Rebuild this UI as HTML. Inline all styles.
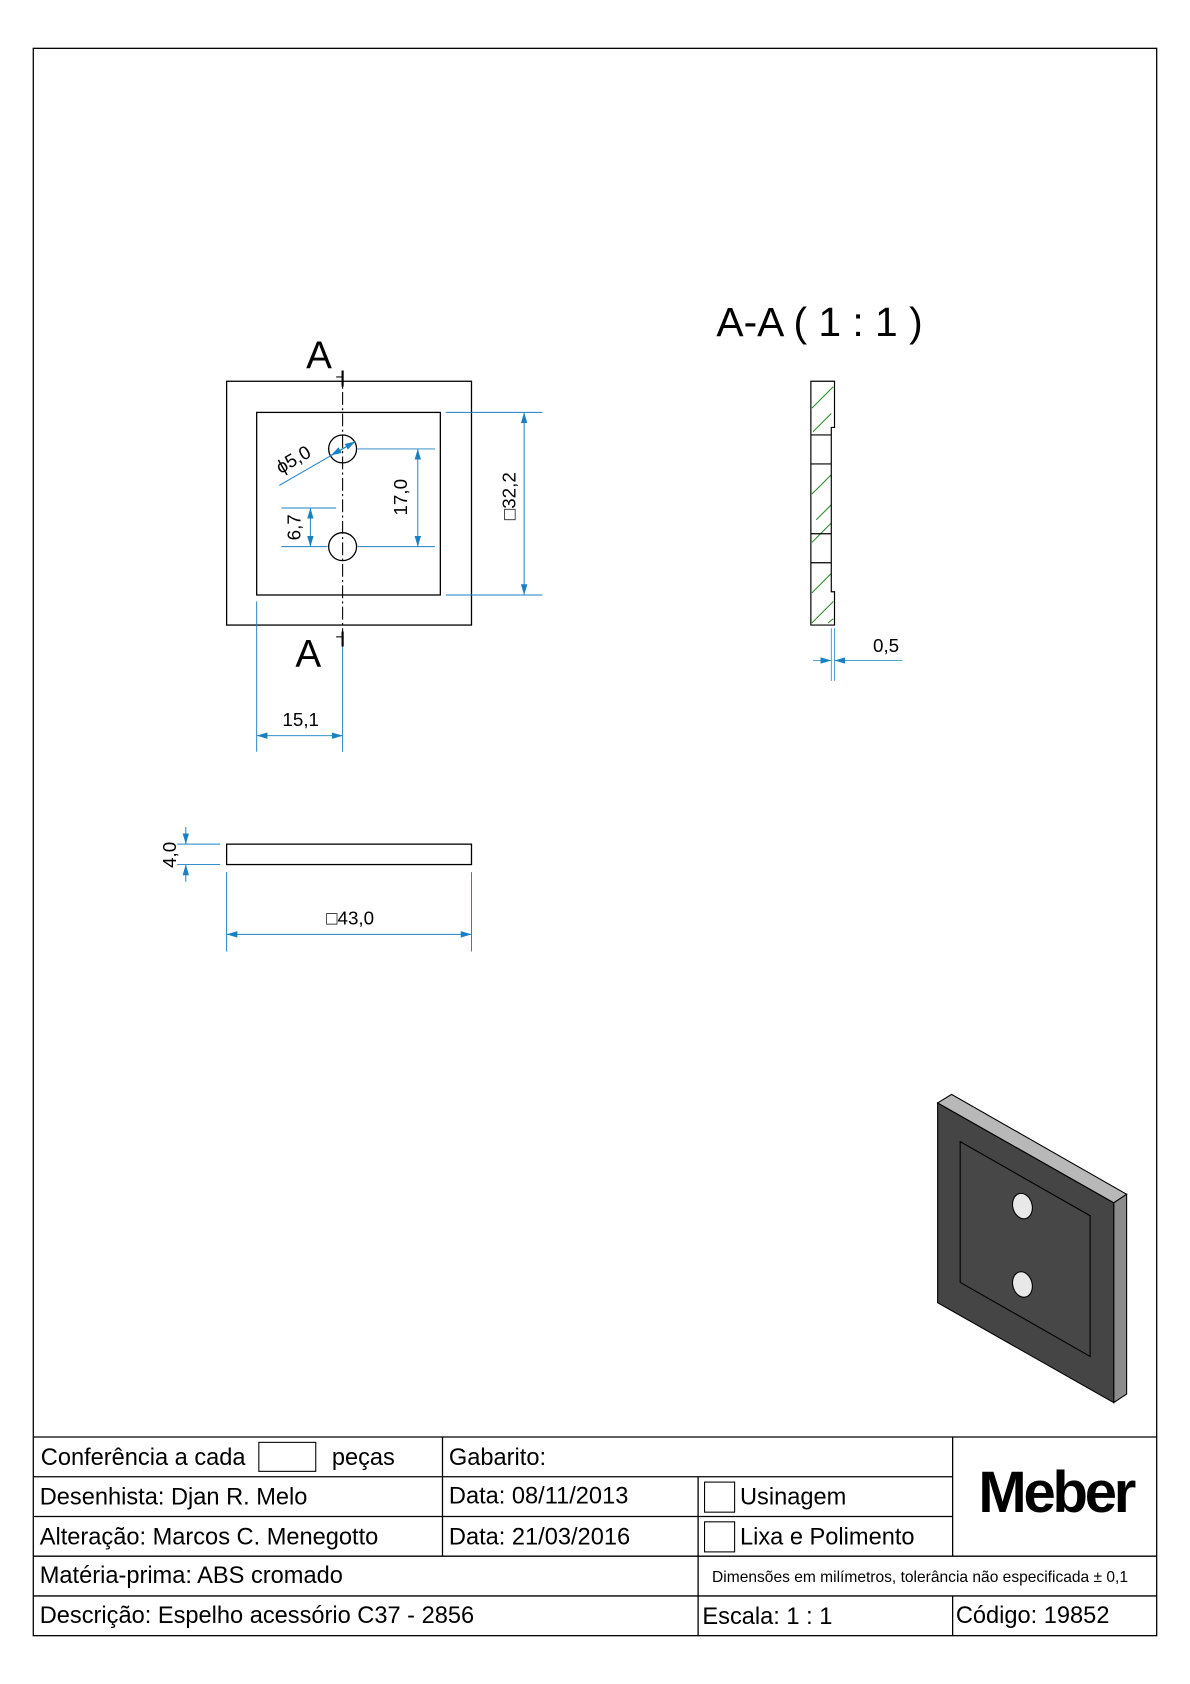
<!DOCTYPE html>
<html><head><meta charset="utf-8"><style>html,body{margin:0;padding:0;background:#fff}svg{display:block}</style></head>
<body>
<svg width="1190" height="1684" viewBox="0 0 1108 1568" preserveAspectRatio="none" xmlns="http://www.w3.org/2000/svg" font-family="Liberation Sans, Arial, sans-serif">
<defs>
<marker id="ar" viewBox="0 0 10 6" refX="10" refY="3" markerWidth="10" markerHeight="6" markerUnits="userSpaceOnUse" orient="auto-start-reverse"><path d="M0,0 L10,3 L0,6 Z" fill="#1a80c4"/></marker>
</defs>
<rect x="31" y="45" width="1046" height="1478" fill="none" stroke="#000" stroke-width="1.2"/>

<!-- front view -->
<g fill="none" stroke="#000" stroke-width="1.2">
<rect x="211" y="355" width="228" height="227"/>
<rect x="239" y="384" width="171" height="170"/>
<circle cx="319" cy="418" r="13"/>
<circle cx="319" cy="509" r="13"/>
</g>
<line x1="319" y1="345" x2="319" y2="602" stroke="#000" stroke-width="1" stroke-dasharray="12,3,2,3"/>
<g stroke="#000" stroke-width="2"><line x1="319" y1="345" x2="319" y2="360"/><line x1="319" y1="588" x2="319" y2="602"/></g>
<g stroke="#000" stroke-width="1"><line x1="313" y1="351" x2="319" y2="351"/><line x1="313" y1="593" x2="319" y2="593"/></g>
<text x="285" y="343" font-size="36">A</text>
<text x="275" y="621" font-size="36">A</text>

<g stroke="#1a80c4" stroke-width="0.9" fill="none">
<line x1="415" y1="384" x2="505" y2="384"/><line x1="415" y1="554" x2="505" y2="554"/>
<line x1="488" y1="384" x2="488" y2="554" marker-start="url(#ar)" marker-end="url(#ar)"/>
<line x1="333" y1="418" x2="405" y2="418"/><line x1="333" y1="509" x2="405" y2="509"/>
<line x1="389" y1="418" x2="389" y2="509" marker-start="url(#ar)" marker-end="url(#ar)"/>
<line x1="262" y1="473" x2="313" y2="473"/><line x1="262" y1="509" x2="305" y2="509"/>
<line x1="289" y1="473" x2="289" y2="509" marker-start="url(#ar)" marker-end="url(#ar)"/>
<line x1="260" y1="452" x2="331" y2="411" marker-end="url(#ar)"/>
<line x1="331" y1="411" x2="308" y2="424" marker-end="url(#ar)"/>
<line x1="239" y1="560" x2="239" y2="700"/><line x1="319" y1="602" x2="319" y2="700"/>
<line x1="239" y1="685" x2="319" y2="685" marker-start="url(#ar)" marker-end="url(#ar)"/>
</g>
<text transform="translate(480,462) rotate(-90)" font-size="17.5" text-anchor="middle">□32,2</text>
<text transform="translate(379,463) rotate(-90)" font-size="17.5" text-anchor="middle">17,0</text>
<text transform="translate(280,491) rotate(-90)" font-size="17.5" text-anchor="middle">6,7</text>
<text transform="translate(276,433) rotate(-30)" font-size="17.5" text-anchor="middle">ϕ5,0</text>
<text x="280" y="676" font-size="17.5" text-anchor="middle">15,1</text>

<!-- side view -->
<rect x="211" y="786" width="228" height="19" fill="none" stroke="#000" stroke-width="1.2"/>
<g stroke="#1a80c4" stroke-width="0.9" fill="none">
<line x1="165" y1="786" x2="205" y2="786"/><line x1="165" y1="805" x2="205" y2="805"/>
<line x1="173" y1="770" x2="173" y2="786" marker-end="url(#ar)"/>
<line x1="173" y1="821" x2="173" y2="805" marker-end="url(#ar)"/>
<line x1="211" y1="812" x2="211" y2="886"/><line x1="439" y1="812" x2="439" y2="886"/>
<line x1="211" y1="870" x2="439" y2="870" marker-start="url(#ar)" marker-end="url(#ar)"/>
</g>
<text transform="translate(164,796) rotate(-90)" font-size="17.5" text-anchor="middle">4,0</text>
<text x="326" y="861" font-size="17.5" text-anchor="middle">□43,0</text>

<!-- section -->
<text x="667" y="313" font-size="38">A-A ( 1 : 1 )</text>
<g stroke="#2e8b2e" stroke-width="1">
<line x1="756" y1="380" x2="776" y2="360"/><line x1="757" y1="402" x2="774" y2="385"/>
<line x1="756" y1="460" x2="774" y2="442"/><line x1="760" y1="484" x2="774" y2="470"/>
<line x1="756" y1="505" x2="774" y2="487"/>
<line x1="756" y1="552" x2="774" y2="534"/><line x1="756" y1="580" x2="776" y2="560"/>
<line x1="771" y1="580" x2="776" y2="576"/>
</g>
<g fill="none" stroke="#000" stroke-width="1.1">
<path d="M755,355 H777 V398 H774 V551 H777 V582 H755 Z"/>
<line x1="755" y1="405" x2="774" y2="405"/><line x1="755" y1="432" x2="774" y2="432"/>
<line x1="755" y1="497" x2="774" y2="497"/><line x1="755" y1="524" x2="774" y2="524"/>
</g>
<g stroke="#1a80c4" stroke-width="0.7" fill="none">
<line x1="774" y1="585" x2="774" y2="634"/><line x1="777" y1="585" x2="777" y2="634"/>
<line x1="757" y1="615" x2="774" y2="615" marker-end="url(#ar)"/>
<line x1="840" y1="615" x2="777" y2="615" marker-end="url(#ar)"/>
</g>
<text x="825" y="607" font-size="17.5" text-anchor="middle">0,5</text>

<!-- isometric -->
<g stroke="#000" stroke-width="1">
<polygon points="873,1027 886,1019 1049,1112 1037,1120" fill="#b8b8b8"/>
<polygon points="1037,1120 1049,1112 1049,1298 1037,1306" fill="#8c8c8c"/>
<polygon points="873,1027 1037,1120 1037,1306 873,1213" fill="#454545"/>
<polygon points="894,1063 1015,1132 1015,1263 894,1194" fill="#474747"/>
<ellipse cx="952" cy="1123" rx="9" ry="12" fill="#e8e8e8" transform="rotate(-15 952 1123)"/>
<ellipse cx="952" cy="1196" rx="9" ry="12" fill="#e8e8e8" transform="rotate(-15 952 1196)"/>
</g>

<!-- title block -->
<g stroke="#000" stroke-width="1.2" fill="none">
<line x1="31" y1="1338" x2="1077" y2="1338"/>
<line x1="31" y1="1375" x2="887" y2="1375"/>
<line x1="31" y1="1412" x2="887" y2="1412"/>
<line x1="31" y1="1449" x2="1077" y2="1449"/>
<line x1="31" y1="1486" x2="1077" y2="1486"/>
<line x1="412" y1="1338" x2="412" y2="1449"/>
<line x1="650" y1="1375" x2="650" y2="1523"/>
<line x1="887" y1="1338" x2="887" y2="1449"/>
<line x1="887" y1="1486" x2="887" y2="1523"/>
<rect x="241" y="1343" width="53" height="27" stroke-width="1"/>
<rect x="656" y="1380" width="28" height="28" stroke-width="1"/>
<rect x="656" y="1417" width="28" height="28" stroke-width="1"/>
</g>
<g font-size="22" fill="#000">
<text x="38" y="1364">Conferência a cada</text>
<text x="309" y="1364">peças</text>
<text x="418" y="1364">Gabarito:</text>
<text x="37" y="1401">Desenhista: Djan R. Melo</text>
<text x="418" y="1400">Data: 08/11/2013</text>
<text x="689" y="1401">Usinagem</text>
<text x="37" y="1438">Alteração: Marcos C. Menegotto</text>
<text x="418" y="1438">Data: 21/03/2016</text>
<text x="689" y="1438">Lixa e Polimento</text>
<text x="37" y="1474">Matéria-prima: ABS cromado</text>
<text x="37" y="1511">Descrição: Espelho acessório C37 - 2856</text>
<text x="654" y="1512">Escala: 1 : 1</text>
<text x="890" y="1511">Código: 19852</text>
</g>
<text x="663" y="1473" font-size="14.5">Dimensões em milímetros, tolerância não especificada ± 0,1</text>
<text x="983" y="1408" font-size="54" font-weight="bold" text-anchor="middle" letter-spacing="-3">Meber</text>
</svg>
</body></html>
